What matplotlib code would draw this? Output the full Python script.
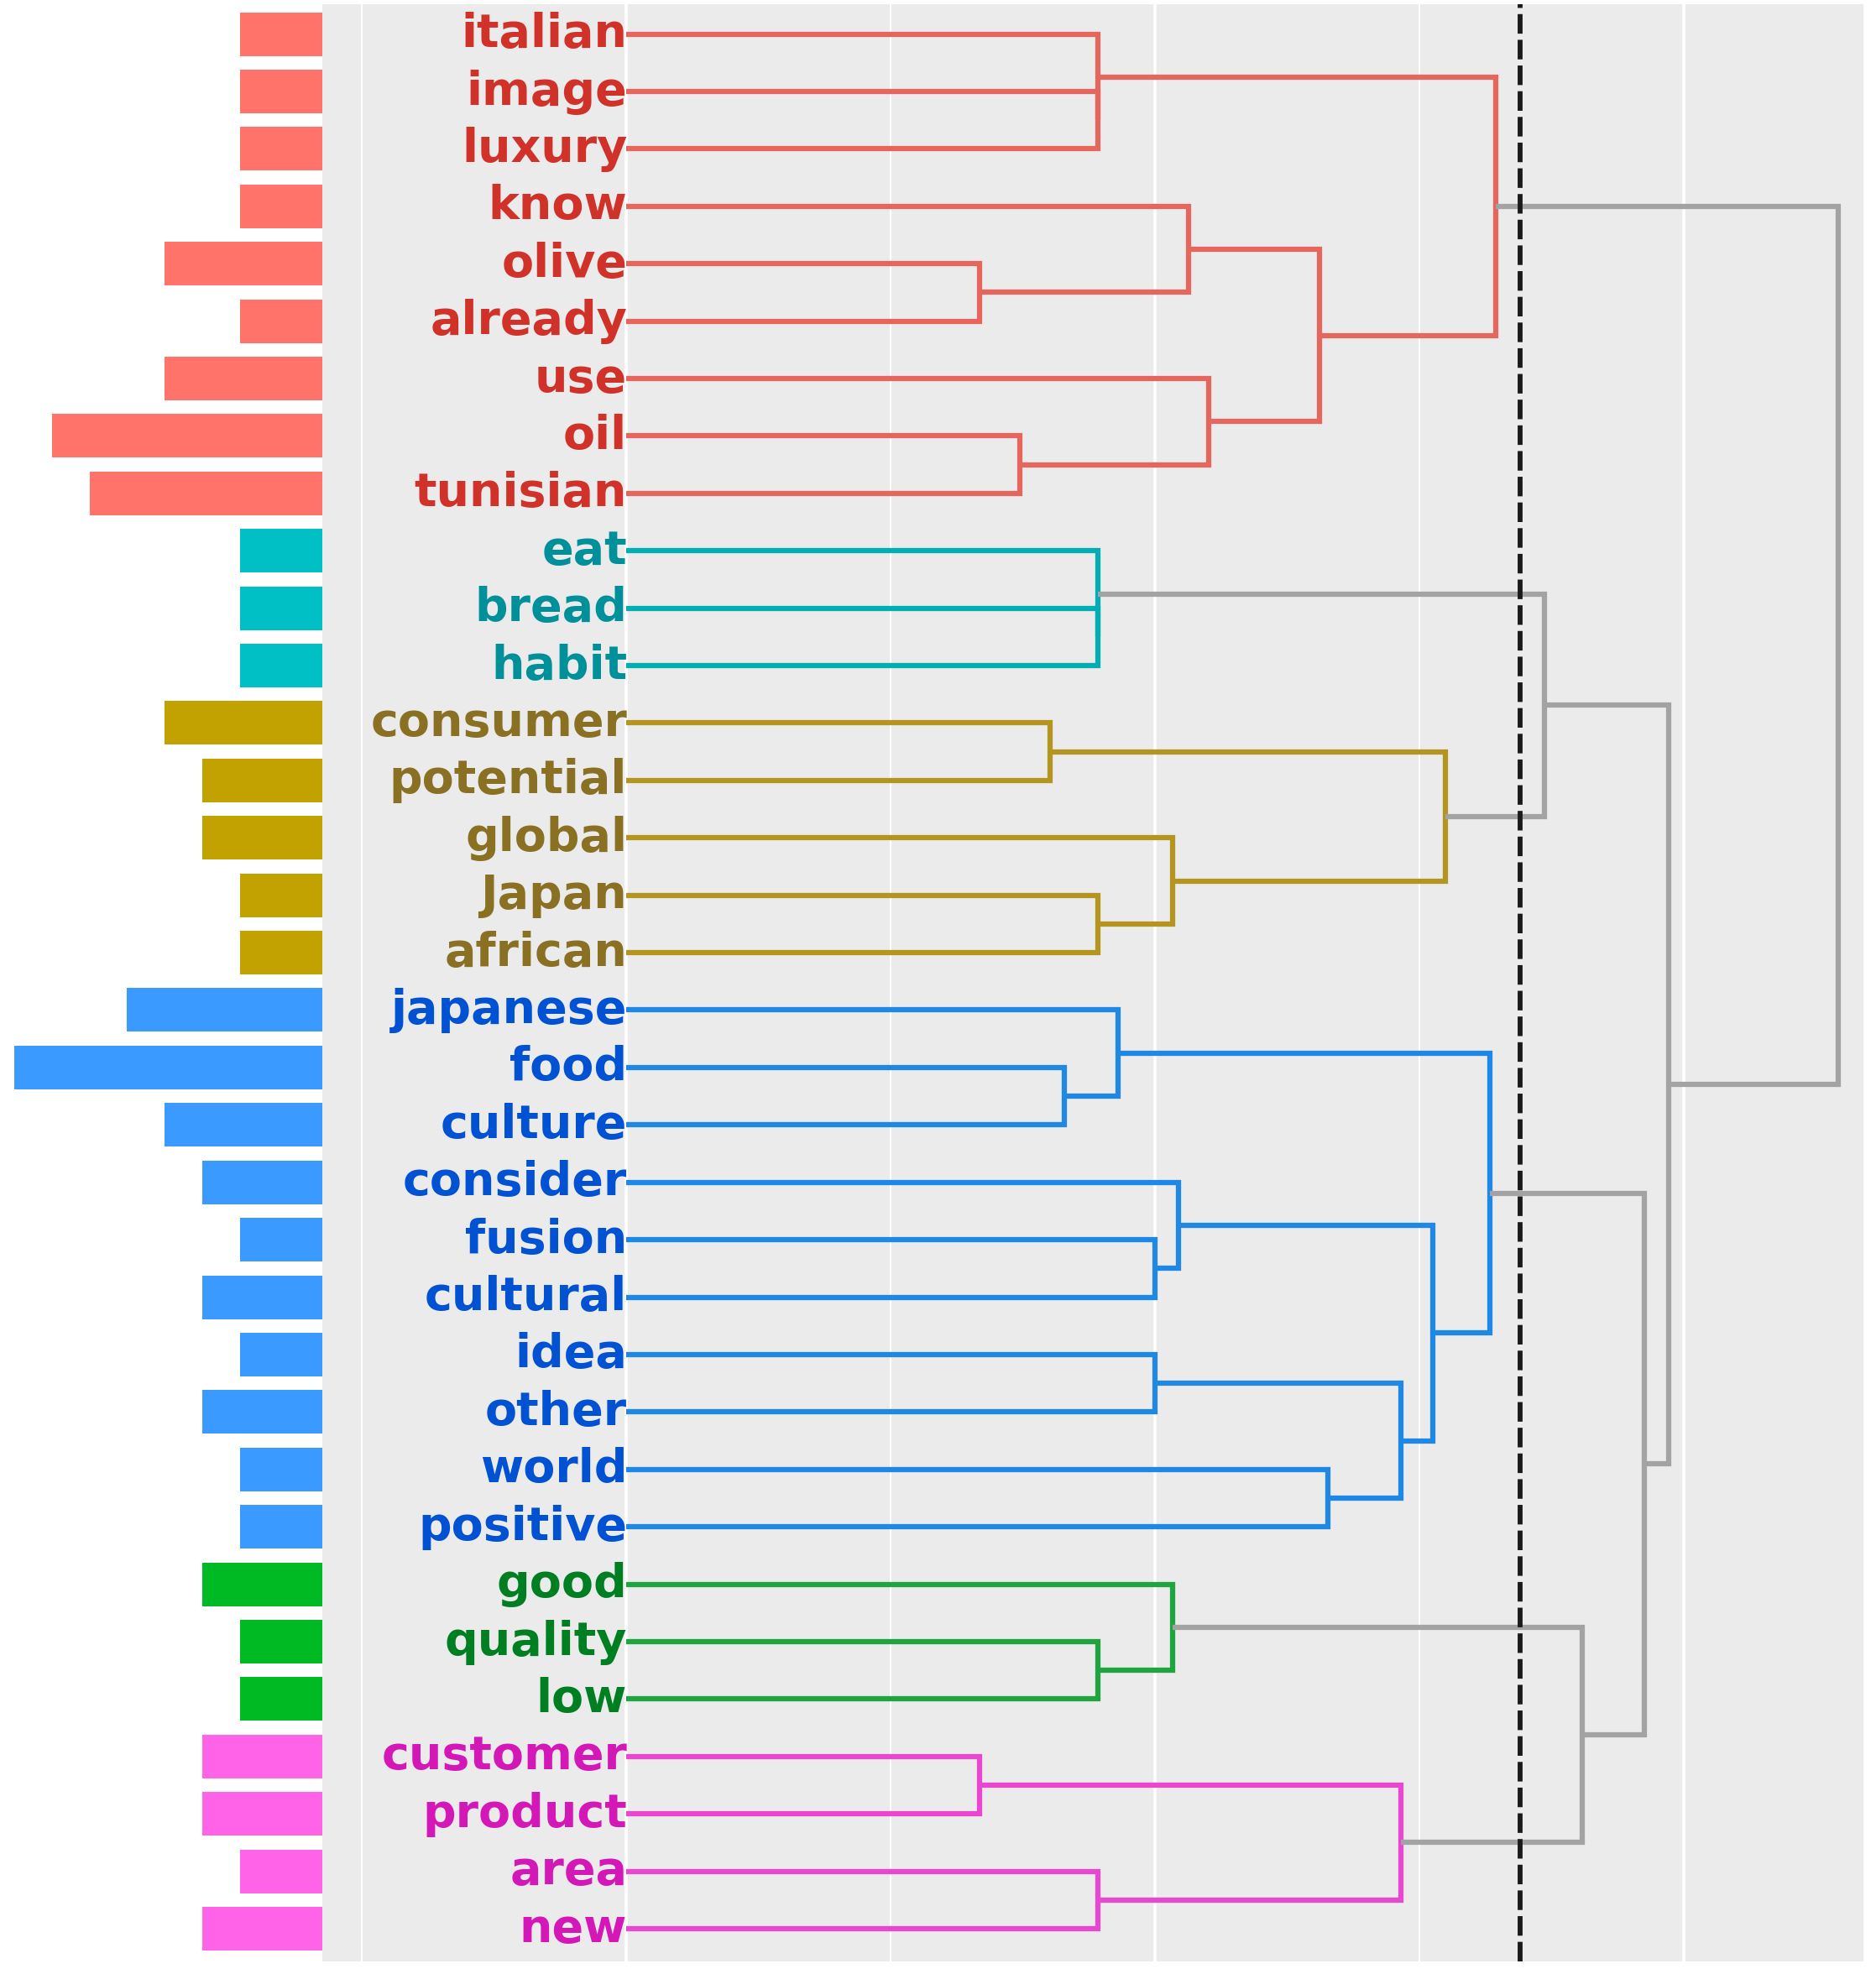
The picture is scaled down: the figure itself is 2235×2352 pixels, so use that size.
import matplotlib
matplotlib.use('Agg')
import matplotlib.pyplot as plt

# leaves from top to bottom, with cluster number and word frequency
words = ['italian', 'image', 'luxury', 'know', 'olive', 'already', 'use', 'oil', 'tunisian',
         'eat', 'bread', 'habit',
         'consumer', 'potential', 'global', 'Japan', 'african',
         'japanese', 'food', 'culture', 'consider', 'fusion', 'cultural', 'idea', 'other',
         'world', 'positive',
         'good', 'quality', 'low',
         'customer', 'product', 'area', 'new']
cluster = [0]*9 + [1]*3 + [2]*5 + [3]*10 + [4]*3 + [5]*4
freq = [7, 7, 7, 7, 13, 7, 13, 22, 19,
        7, 7, 7,
        13, 10, 10, 7, 7,
        16, 25, 13, 10, 7, 10, 7, 10, 7, 7,
        10, 7, 7,
        10, 10, 7, 10]

# merges (a, b, height): strings are leaves, ints point to an earlier merge
merges = [
    ('image', 'luxury', 1.786),      # 0
    ('italian', 0, 1.786),           # 1
    ('olive', 'already', 1.338),     # 2
    ('know', 2, 2.129),              # 3
    ('oil', 'tunisian', 1.490),      # 4
    ('use', 4, 2.205),               # 5
    (3, 5, 2.624),                   # 6
    (1, 6, 3.290),                   # 7
    ('bread', 'habit', 1.786),       # 8
    ('eat', 8, 1.786),               # 9
    ('consumer', 'potential', 1.605),  # 10
    ('Japan', 'african', 1.786),     # 11
    ('global', 11, 2.067),           # 12
    (10, 12, 3.100),                 # 13
    (9, 13, 3.476),                  # 14
    ('food', 'culture', 1.660),      # 15
    ('japanese', 15, 1.862),         # 16
    ('fusion', 'cultural', 2.000),   # 17
    ('consider', 17, 2.090),         # 18
    ('idea', 'other', 2.000),        # 19
    ('world', 'positive', 2.657),    # 20
    (19, 20, 2.933),                 # 21
    (18, 21, 3.052),                 # 22
    (16, 22, 3.267),                 # 23
    ('quality', 'low', 1.786),       # 24
    ('good', 24, 2.067),             # 25
    ('customer', 'product', 1.338),  # 26
    ('area', 'new', 1.786),          # 27
    (26, 27, 2.933),                 # 28
    (25, 28, 3.619),                 # 29
    (23, 29, 3.852),                 # 30
    (14, 30, 3.943),                 # 31
    (7, 31, 4.586),                  # 32
]
cut_height = 3.381

bar_cols = ['#FF736A', '#00C0C5', '#C1A200', '#3A9AFF', '#00BA24', '#FF63E8']
line_cols = ['#E4665C', '#00AEB4', '#B39520', '#1F88E5', '#1EA540', '#E848CF']
text_cols = ['#D0322A', '#00909A', '#8A7022', '#0052D2', '#007E22', '#D418B8']
grey = '#A3A3A3'

W, H = 2235, 2352
fig = plt.figure(figsize=(W / 100, H / 100), dpi=100)

bottom = 1 - 2337 / H
height = (2337 - 5) / H
ylim = (33.57, -0.52)

# frequency bars on the left
axb = fig.add_axes([0, bottom, 384 / W, height])
for i, w in enumerate(words):
    axb.barh(i, freq[i], height=0.76, color=bar_cols[cluster[i]], edgecolor='none')
axb.set_xlim(26.13, 0.44)
axb.set_ylim(*ylim)
axb.axis('off')

# dendrogram panel
ax = fig.add_axes([384 / W, bottom, (2220 - 384) / W, height])
ax.set_facecolor('#EBEBEB')
for s in ax.spines.values():
    s.set_visible(False)
ax.set_xticks([])
ax.set_yticks([])
ax.set_xlim(-1.148, 4.681)
ax.set_ylim(*ylim)

for g in [0, 2, 4]:
    ax.axvline(g, color='white', lw=2.6, zorder=0)
for g in [-1, 1, 3]:
    ax.axvline(g, color='white', lw=1.5, zorder=0)

ypos = {w: i for i, w in enumerate(words)}
hgt = {w: 0.0 for w in words}
clus = {w: cluster[i] for i, w in enumerate(words)}
for k, (a, b, h) in enumerate(merges):
    ypos[k] = (ypos[a] + ypos[b]) / 2
    hgt[k] = h
    if h < cut_height and clus[a] == clus[b]:
        clus[k] = clus[a]
    else:
        clus[k] = None
    col = line_cols[clus[k]] if clus[k] is not None else grey
    ax.plot([hgt[a], h, h, hgt[b]], [ypos[a], ypos[a], ypos[b], ypos[b]],
            color=col, lw=4.5, solid_joinstyle='miter', solid_capstyle='butt', zorder=2)

for i, w in enumerate(words):
    ax.text(0.005, i + 0.227, w, ha='right', va='baseline', fontsize=40,
            fontweight='bold', color=text_cols[cluster[i]], zorder=3)

# cut line
ax.axvline(cut_height, color='#1A1A1A', lw=4.2, dashes=(4.0, 1.25), zorder=4)

fig.savefig('out.png', dpi=100, facecolor='white')
